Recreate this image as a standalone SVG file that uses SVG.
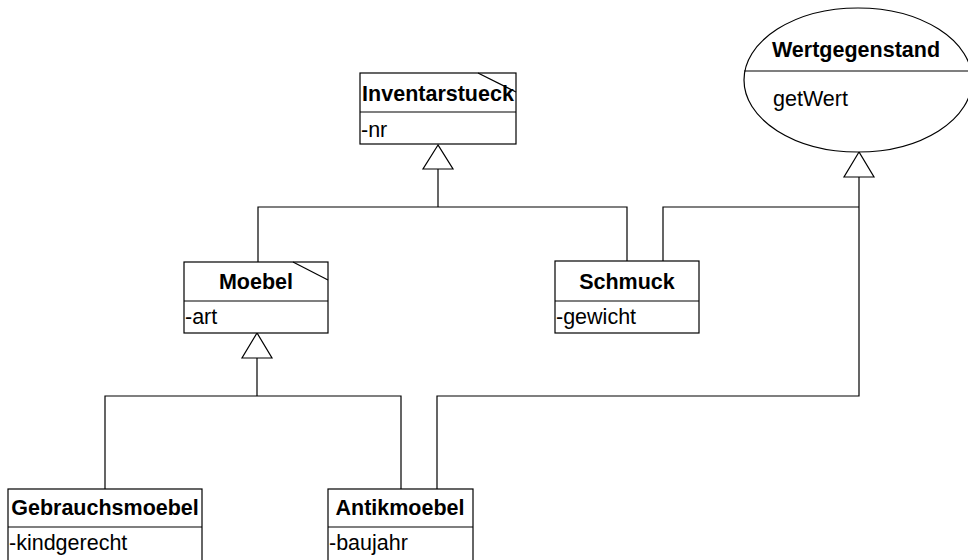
<svg xmlns="http://www.w3.org/2000/svg" width="968" height="560" viewBox="0 0 968 560">
<style>
.box{fill:#fff;stroke:#000;stroke-width:1.2}
.ln{fill:none;stroke:#000;stroke-width:1.2}
.tri{fill:#fff;stroke:#000;stroke-width:1.2}
.b{font-family:"Liberation Sans",Arial,sans-serif;font-weight:bold;font-size:21.5px;fill:#000;text-anchor:middle}
.r{font-family:"Liberation Sans",Arial,sans-serif;font-size:21.5px;fill:#000}
</style>
<rect width="968" height="560" fill="#fff"/>
<g id="connectors">
<polyline class="ln" points="438,169 438,207"/>
<polyline class="ln" points="258,262 258,207 627,207 627,261"/>
<polygon class="tri" points="438,145 423,169 453,169"/>
<polyline class="ln" points="257,358 257,396"/>
<polyline class="ln" points="105,489 105,396 401,396 401,489"/>
<polygon class="tri" points="257,333 242,358 272,358"/>
<polyline class="ln" points="859,177 859,396 437,396 437,489"/>
<polyline class="ln" points="859,207 663,207 663,261"/>
<polygon class="tri" points="859,152 844,177 874,177"/>
</g>
<g id="Inventarstueck">
<rect class="box" x="360" y="73" width="156" height="71"/>
<line class="ln" x1="360" y1="112" x2="516" y2="112"/>
<line class="ln" x1="478" y1="73" x2="516" y2="92"/>
<text class="b" x="438" y="101">Inventarstueck</text>
<text class="r" x="361" y="137">-nr</text>
</g>
<g id="Wertgegenstand">
<ellipse class="box" cx="858" cy="80" rx="114" ry="72"/>
<line class="ln" x1="744" y1="71" x2="968" y2="71"/>
<text class="b" x="856" y="57">Wertgegenstand</text>
<text class="r" x="773" y="106">getWert</text>
</g>
<g id="Moebel">
<rect class="box" x="184" y="262" width="144" height="71"/>
<line class="ln" x1="184" y1="301" x2="328" y2="301"/>
<line class="ln" x1="293" y1="262" x2="328" y2="280"/>
<text class="b" x="256" y="289">Moebel</text>
<text class="r" x="185" y="324">-art</text>
</g>
<g id="Schmuck">
<rect class="box" x="555" y="261" width="144" height="72"/>
<line class="ln" x1="555" y1="301" x2="699" y2="301"/>
<text class="b" x="627" y="289">Schmuck</text>
<text class="r" x="556" y="324">-gewicht</text>
</g>
<g id="Gebrauchsmoebel">
<rect class="box" x="8" y="489" width="194" height="80"/>
<line class="ln" x1="8" y1="527" x2="202" y2="527"/>
<text class="b" x="105" y="515">Gebrauchsmoebel</text>
<text class="r" x="9" y="550">-kindgerecht</text>
</g>
<g id="Antikmoebel">
<rect class="box" x="328" y="489" width="145" height="80"/>
<line class="ln" x1="328" y1="527" x2="473" y2="527"/>
<text class="b" x="400" y="515">Antikmoebel</text>
<text class="r" x="329" y="550">-baujahr</text>
</g>
</svg>
